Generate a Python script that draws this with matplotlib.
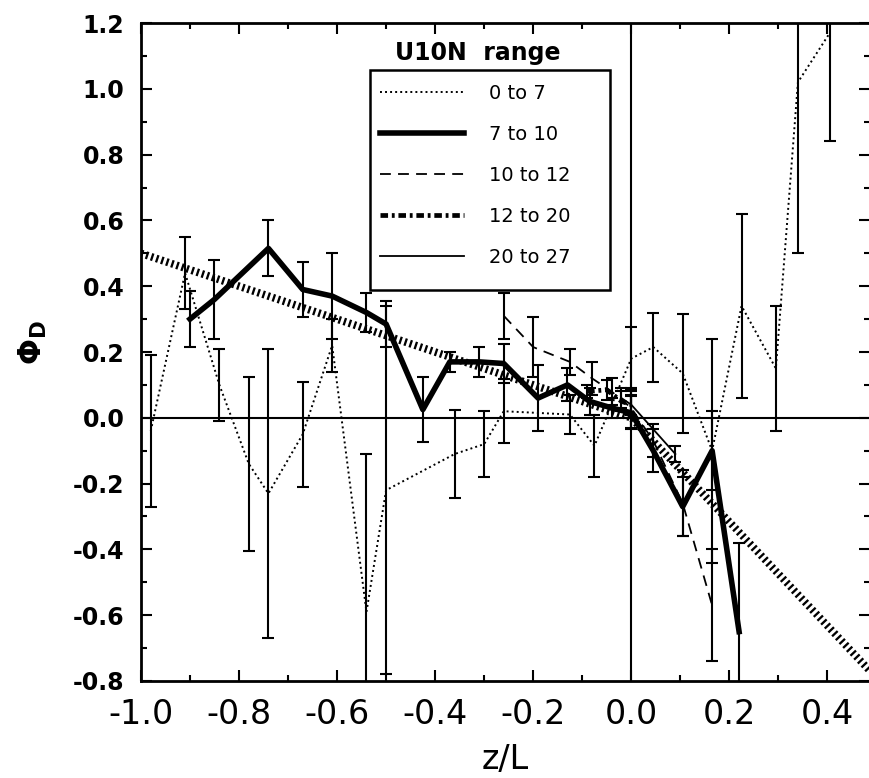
import matplotlib
matplotlib.use("Agg")
import matplotlib.pyplot as plt
from matplotlib.lines import Line2D
from matplotlib.patches import Rectangle

plt.rcParams['font.family'] = ['DejaVu Sans']
plt.rcParams['axes.unicode_minus'] = False

# U10N 0 to 7 (dotted)
x_0to7 = [-0.98, -0.91, -0.84, -0.78, -0.74, -0.67, -0.61, -0.54, -0.50, -0.36, -0.30,
          -0.26, -0.125, -0.075, 0.0, 0.045, 0.105, 0.165, 0.225, 0.295, 0.34, 0.405]
y_0to7 = [-0.04, 0.44, 0.10, -0.14, -0.23, -0.05, 0.22, -0.59, -0.22, -0.11, -0.08,
          0.02, 0.01, -0.085, 0.18, 0.215, 0.135, -0.10, 0.34, 0.15, 1.02, 1.17]
e_0to7 = [0.23, 0.11, 0.11, 0.265, 0.44, 0.16, 0.08, 0.48, 0.56, 0.135, 0.10,
          0.097, 0.06, 0.095, 0.095, 0.105, 0.18, 0.34, 0.28, 0.19, 0.52, 0.33]

# 7 to 10 (thick solid)
x_7to10 = [-0.90, -0.85, -0.74, -0.67, -0.61, -0.54, -0.50, -0.425, -0.37, -0.31, -0.26,
           -0.19, -0.13, -0.085, -0.04, 0.0, 0.045, 0.105, 0.165, 0.22]
y_7to10 = [0.30, 0.36, 0.515, 0.39, 0.37, 0.32, 0.285, 0.025, 0.17, 0.17, 0.165,
           0.06, 0.10, 0.05, 0.03, 0.015, -0.10, -0.27, -0.10, -0.65]
e_7to10 = [0.085, 0.12, 0.085, 0.085, 0.13, 0.06, 0.07, 0.10, 0.03, 0.045, 0.06,
           0.10, 0.05, 0.04, 0.03, 0.05, 0.065, 0.09, 0.12, 0.27]

# 10 to 12 (dashed)
x_10to12 = [-0.26, -0.20, -0.125, -0.08, -0.04, 0.0, 0.045, 0.105, 0.165]
y_10to12 = [0.31, 0.215, 0.17, 0.12, 0.08, 0.03, -0.07, -0.26, -0.57]
e_10to12 = [0.07, 0.09, 0.04, 0.05, 0.04, 0.06, 0.05, 0.10, 0.17]

# 12 to 20 (thick dash-dot)
x_12to20 = [-0.09, -0.05, -0.02, 0.0]
y_12to20 = [0.08, 0.085, 0.05, 0.04]
e_12to20 = [0.02, 0.03, 0.03, 0.03]

# 20 to 27 (thin solid)
x_20to27 = [-0.02, 0.0, 0.09]
y_20to27 = [0.06, 0.04, -0.11]
e_20to27 = [0.03, 0.04, 0.025]

# reference curve (hatched)
x_ref = [-1.0, 0.0, 0.5]
y_ref = [0.5, 0.0, -0.79]

labels = ['0 to 7', '7 to 10', '10 to 12', '12 to 20', '20 to 27']
xticks = [-1.0, -0.8, -0.6, -0.4, -0.2, 0.0, 0.2, 0.4]
yticks = [-0.8, -0.6, -0.4, -0.2, 0.0, 0.2, 0.4, 0.6, 0.8, 1.0, 1.2]

styles = [
    dict(color='k', lw=1.4, linestyle=(0, (1, 1.6))),
    dict(color='k', lw=4.0, linestyle='-'),
    dict(color='k', lw=1.3, linestyle=(0, (6, 4))),
    dict(color='k', lw=3.4, linestyle=(0, (1.6, 0.8, 0.6, 0.8))),
    dict(color='k', lw=1.3, linestyle='-'),
]
series = [(x_0to7, y_0to7, e_0to7), (x_7to10, y_7to10, e_7to10),
          (x_10to12, y_10to12, e_10to12), (x_12to20, y_12to20, e_12to20),
          (x_20to27, y_20to27, e_20to27)]

fig = plt.figure(figsize=(8.7, 7.78), dpi=100)
ax = fig.add_axes([0.162, 0.1247, 0.838, 0.8457])

ax.axhline(0, color='k', lw=1.5, zorder=1)
ax.axvline(0, color='k', lw=1.5, zorder=1)

ax.plot(x_ref, y_ref, color='k', lw=5.5, linestyle=(0, (0.3, 0.4)), zorder=2)

for (x, y, e), st in zip(series, styles):
    ax.errorbar(x, y, yerr=e, fmt='none', ecolor='k', elinewidth=1.5,
                capsize=4.5, capthick=1.5, zorder=3)
    ax.plot(x, y, zorder=4, **st)

ax.set_xlim(-1.0, 0.487)
ax.set_ylim(-0.8, 1.2)
ax.set_xticks(xticks)
ax.set_xticklabels(['%.1f' % v for v in xticks], fontsize=24)
ax.set_xticks([-0.9, -0.7, -0.5, -0.3, -0.1, 0.1, 0.3], minor=True)
ax.set_yticks(yticks)
ax.set_yticklabels(['%.1f' % v for v in yticks], fontsize=17, fontweight='bold')
ax.set_yticks([-0.7, -0.5, -0.3, -0.1, 0.1, 0.3, 0.5, 0.7, 0.9, 1.1], minor=True)
ax.tick_params(which='both', direction='in', top=True, right=True, width=1.5)
ax.tick_params(which='major', length=8)
ax.tick_params(which='minor', length=4)
ax.tick_params(axis='x', which='major', pad=12)
ax.tick_params(axis='y', which='major', pad=12)
for sp in ax.spines.values():
    sp.set_linewidth(2)

fig.text(505 / 870, 1 - 760 / 778, 'z/L', fontsize=24, ha='center', va='center')
fig.text(33 / 870, 1 - 343 / 778, r'$\mathbf{\Phi}_\mathbf{D}$', fontsize=22,
         rotation=90, ha='center', va='center')

# legend
handles = [Line2D([], [], **st) for st in styles]
ax.legend(handles, labels, loc='upper left', bbox_to_anchor=(0.328, 0.908),
          frameon=False, fontsize=14, borderpad=0, borderaxespad=0,
          handlelength=4.3, handletextpad=1.3, labelspacing=1.14)
ax.add_patch(Rectangle((0.314, 0.594), 0.329, 0.335, transform=ax.transAxes,
                       fill=False, edgecolor='k', lw=1.8, zorder=5))
ax.text(0.462, 0.954, 'U10N  range', transform=ax.transAxes, fontsize=17,
        fontweight='bold', ha='center', va='center')

fig.savefig('out.png', dpi=100)
